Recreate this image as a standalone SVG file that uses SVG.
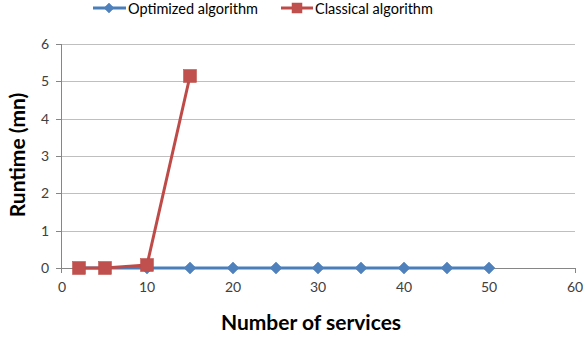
<svg xmlns="http://www.w3.org/2000/svg" width="585" height="340" viewBox="0 0 585 340">
<style>
.grid{stroke:#bfbfbf;stroke-width:1}
.axis{stroke:#868686;stroke-width:1;fill:none}
.tick{font-family:Lato,"Liberation Sans",sans-serif;font-size:14px;fill:#404040}
.ttl{font-family:Lato,"Liberation Sans",sans-serif;font-size:21px;font-weight:bold;fill:#000}
.leg{font-family:Lato,"Liberation Sans",sans-serif;font-size:14.5px;fill:#000}
.blue{stroke:#4a7ebb;stroke-width:3;fill:none;stroke-linejoin:round}
.red{stroke:#be4b48;stroke-width:3;fill:none;stroke-linejoin:round}
.dia{fill:#4f81bd;stroke:#4a7ebb;stroke-width:0.5}
.sq{fill:#c0504d;stroke:#be4b48;stroke-width:0.5}
</style>
<defs>
<path id="d" d="M0,-6 L6,0 L0,6 L-6,0 Z" class="dia"/>
<rect id="s" x="-6.5" y="-6.5" width="13" height="13" class="sq"/>
</defs>
<rect width="585" height="340" fill="#fff"/>
<g id="gridlines">
<line class="grid" x1="61" y1="44.5" x2="575" y2="44.5"/>
<line class="grid" x1="61" y1="81.5" x2="575" y2="81.5"/>
<line class="grid" x1="61" y1="119.5" x2="575" y2="119.5"/>
<line class="grid" x1="61" y1="156.5" x2="575" y2="156.5"/>
<line class="grid" x1="61" y1="193.5" x2="575" y2="193.5"/>
<line class="grid" x1="61" y1="231.5" x2="575" y2="231.5"/>
</g>
<g id="axes">
<path class="axis" d="M61.5,44 V268.5 H575"/>
<path class="axis" d="M56,44.5 H61 M56,81.5 H61 M56,119.5 H61 M56,156.5 H61 M56,193.5 H61 M56,231.5 H61 M56,268.5 H61"/>
<path class="axis" d="M61.5,268 V273 M147.5,268 V273 M233.5,268 V273 M318.5,268 V273 M404.5,268 V273 M489.5,268 V273 M575.5,268 V273"/>
</g>
<g id="ylabels" class="tick" text-anchor="end">
<text x="49" y="49">6</text>
<text x="49" y="86">5</text>
<text x="49" y="124">4</text>
<text x="49" y="161">3</text>
<text x="49" y="198">2</text>
<text x="49" y="236">1</text>
<text x="49" y="273">0</text>
</g>
<g id="xlabels" class="tick" text-anchor="middle">
<text x="62" y="292">0</text>
<text x="147" y="292">10</text>
<text x="233" y="292">20</text>
<text x="318" y="292">30</text>
<text x="404" y="292">40</text>
<text x="489" y="292">50</text>
<text x="575" y="292">60</text>
</g>
<g id="titles">
<text class="ttl" x="311" y="330" text-anchor="middle">Number of services</text>
<text class="ttl" transform="translate(25,155) rotate(-90)" text-anchor="middle">Runtime (mn)</text>
</g>
<g id="connectors">
<polyline class="blue" points="79,268 105,268 147,268 190,268 233,268 276,268 318,268 361,268 404,268 447,268 489,268"/>
<polyline class="red" points="79,268 105,268 147,265 190,76"/>
</g>
<g id="optimized">
<use href="#d" x="79" y="268"/>
<use href="#d" x="105" y="268"/>
<use href="#d" x="147" y="268"/>
<use href="#d" x="190" y="268"/>
<use href="#d" x="233" y="268"/>
<use href="#d" x="276" y="268"/>
<use href="#d" x="318" y="268"/>
<use href="#d" x="361" y="268"/>
<use href="#d" x="404" y="268"/>
<use href="#d" x="447" y="268"/>
<use href="#d" x="489" y="268"/>
</g>
<g id="classical">
<use href="#s" x="79" y="268"/>
<use href="#s" x="105" y="268"/>
<use href="#s" x="147" y="265"/>
<use href="#s" x="190" y="76"/>
</g>
<g id="legend">
<line class="blue" x1="93" y1="8" x2="126" y2="8"/>
<path d="M109,3 L114,8 L109,13 L104,8 Z" class="dia"/>
<text class="leg" x="128" y="14">Optimized algorithm</text>
<line class="red" x1="281" y1="8" x2="313" y2="8"/>
<rect x="292" y="3" width="10" height="10" class="sq"/>
<text class="leg" x="315" y="14">Classical algorithm</text>
</g>
</svg>
